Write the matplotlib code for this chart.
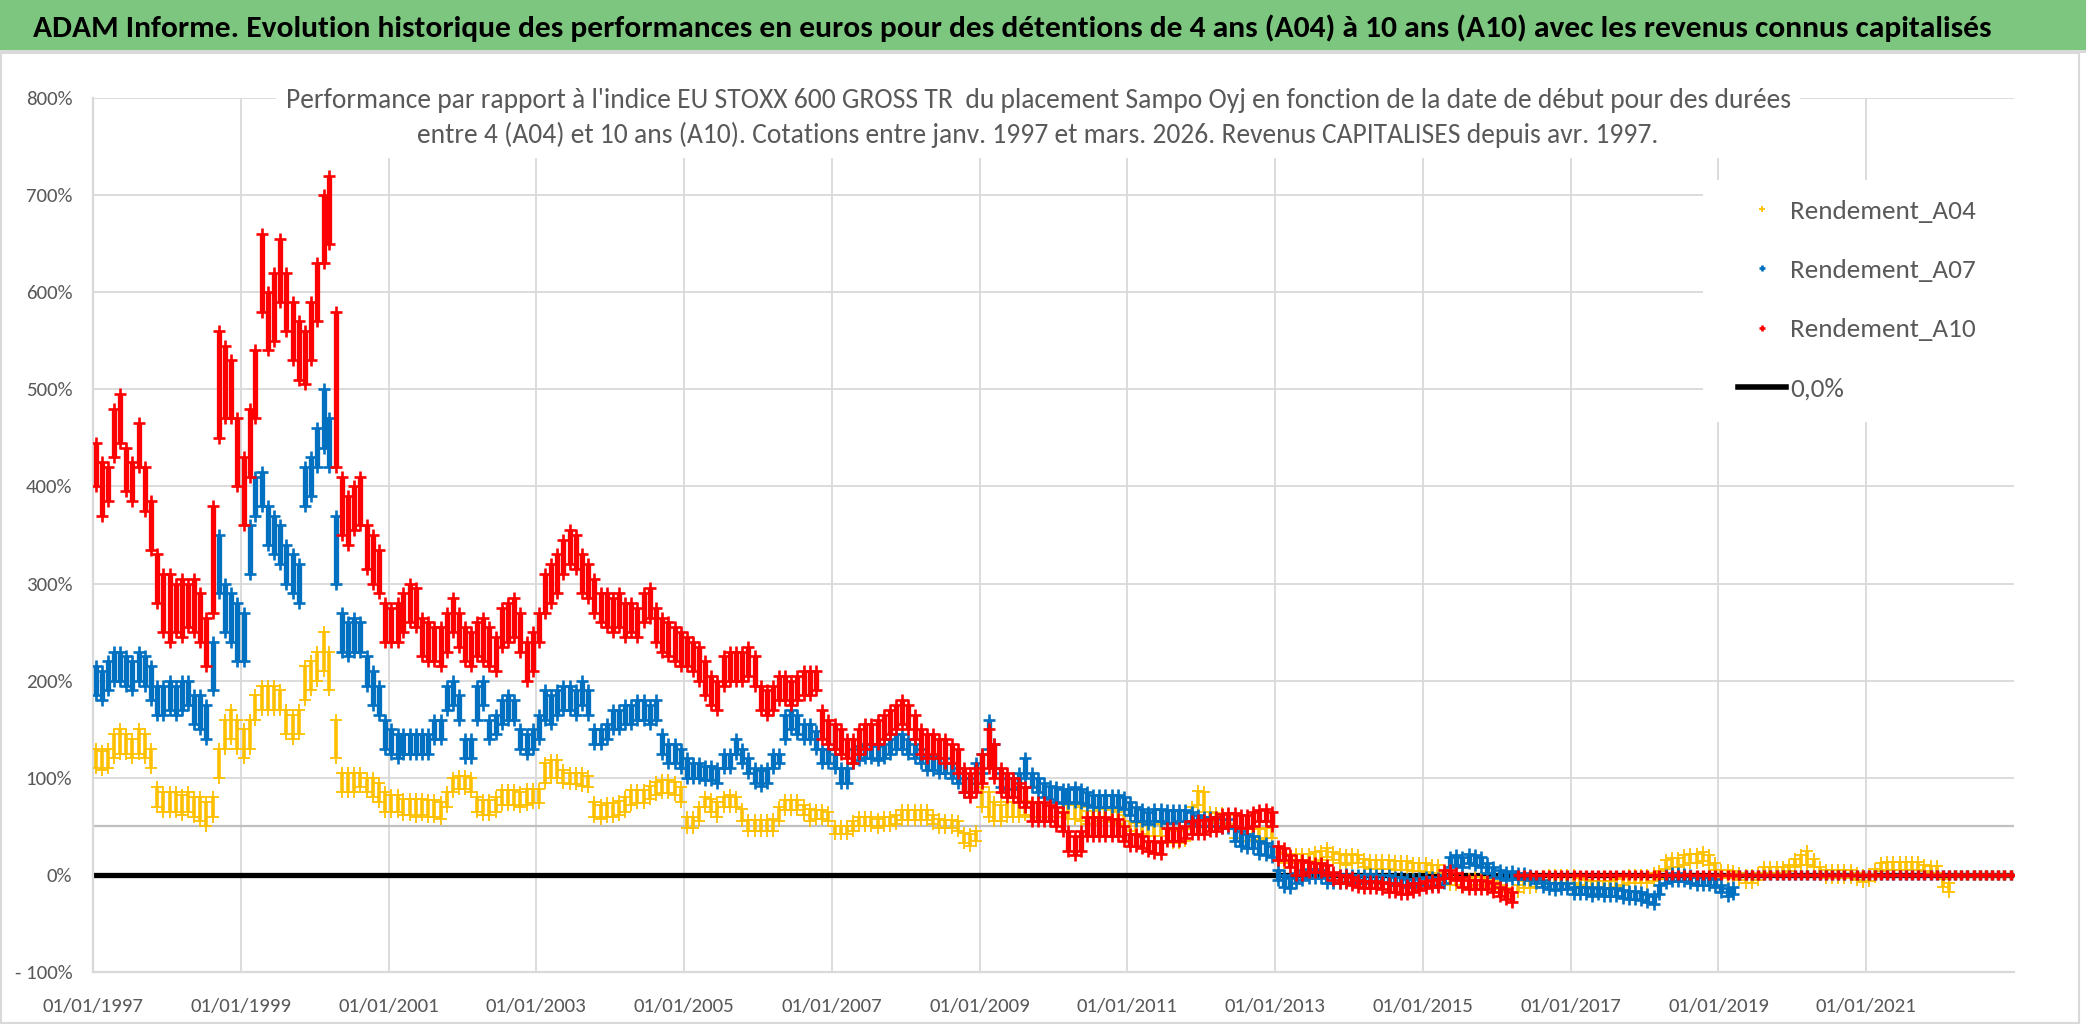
import pandas as pd
import matplotlib
matplotlib.use("Agg")
from matplotlib import pyplot as plt
from matplotlib import font_manager
from matplotlib.lines import Line2D
from matplotlib.patches import Rectangle

W, H = 2086, 1031
GRIS = "#595959"

dispo = {f.name for f in font_manager.fontManager.ttflist}
POLICE = "Carlito" if "Carlito" in dispo else "Lato"
plt.rcParams["font.family"] = [POLICE, "DejaVu Sans"]

TITRE = ("ADAM Informe. Evolution historique des performances en euros pour des détentions "
         "de 4 ans (A04) à 10 ans (A10) avec les revenus connus capitalisés")
SOUS_TITRE = ("Performance par rapport à l'indice EU STOXX 600 GROSS TR  du placement Sampo Oyj "
              "en fonction de la date de début pour des durées\n"
              "entre 4 (A04) et 10 ans (A10). Cotations entre janv. 1997 et mars. 2026. "
              "Revenus CAPITALISES depuis avr. 1997.")

# one value per month (mid-month), low / high edge of the daily cloud, in %
mois = pd.date_range("1997-01-01", "2022-12-01", freq="MS") + pd.Timedelta(days=14)

a04_bas = [
    110, 108, 110, 120, 125, 125, 120, 125, 120, 110, 70, 65,
    65, 65, 62, 65, 60, 55, 50, 60, 100, 130, 140, 130,
    120, 130, 160, 170, 170, 170, 170, 145, 140, 145, 180, 190,
    200, 210, 190, 120, 85, 85, 85, 90, 85, 80, 75, 65,
    65, 65, 62, 62, 60, 62, 60, 60, 58, 70, 85, 88,
    88, 85, 65, 62, 62, 65, 72, 72, 72, 70, 72, 74,
    74, 95, 100, 100, 95, 94, 94, 92, 90, 60, 58, 60,
    60, 62, 65, 72, 74, 74, 78, 82, 84, 84, 82, 75,
    48, 48, 55, 70, 65, 60, 70, 70, 70, 55, 45, 45,
    45, 45, 45, 55, 67, 67, 67, 62, 55, 58, 58, 55,
    42, 42, 42, 45, 50, 50, 50, 48, 50, 50, 52, 57,
    57, 57, 57, 57, 52, 48, 48, 48, 45, 33, 30, 35,
    70, 60, 55, 55, 60, 60, 60, 62, 60, 60, 60, 60,
    60, 60, 58, 58, 55, 52, 52, 55, 55, 54, 52, 50,
    45, 42, 42, 40, 40, 40, 35, 33, 33, 35, 55, 72,
    65, 55, 53, 53, 52, 38, 35, 35, 36, 36, 38, 38,
    14, 12, 12, 12, 12, 12, 14, 15, 18, 15, 12, 10,
    12, 12, 8, 6, 6, 6, 6, 5, 5, 5, 4, 4,
    3, 2, 2, -8, -10, -10, -12, -12, -10, -10, -12, -15,
    -18, -22, -28, -18, -14, -14, -12, -8, -8, -8, -8, -8,
    -8, -10, -12, -14, -14, -14, -14, -12, -10, -8, -8, -8,
    -8, -6, -4, 6, 8, 8, 10, 12, 12, 14, 10, 5,
    -3, -3, -3, -5, -8, -8, -5, 2, 2, 2, 2, 4,
    8, 10, 10, 8, 0, -3, -3, -3, -3, -3, -5, -7,
    -6, -2, 4, 5, 5, 5, 5, 5, 5, 4, 2, 2,
    -12, -18,
]
a04_haut = [
    130, 128, 130, 145, 150, 145, 140, 150, 145, 130, 90, 85,
    85, 85, 82, 85, 80, 80, 75, 80, 130, 160, 170, 160,
    150, 160, 185, 195, 195, 195, 190, 170, 165, 170, 215, 220,
    230, 250, 230, 160, 105, 105, 105, 105, 100, 100, 95, 85,
    82, 82, 78, 78, 78, 78, 77, 77, 75, 85, 100, 102,
    102, 100, 80, 77, 77, 80, 87, 87, 87, 85, 88, 88,
    88, 115, 118, 118, 108, 105, 105, 105, 102, 75, 72, 74,
    74, 76, 80, 87, 87, 87, 92, 96, 98, 98, 96, 90,
    60, 60, 70, 80, 78, 75, 80, 82, 80, 68, 57, 57,
    57, 57, 58, 70, 77, 77, 77, 72, 68, 67, 67, 65,
    50, 50, 50, 55, 60, 60, 60, 58, 60, 60, 62, 67,
    67, 67, 67, 67, 62, 58, 57, 57, 55, 43, 42, 45,
    90, 85, 75, 72, 75, 75, 75, 76, 74, 74, 74, 74,
    74, 74, 72, 72, 70, 66, 66, 68, 68, 67, 65, 62,
    55, 53, 53, 52, 52, 52, 47, 45, 45, 47, 70, 86,
    85, 65, 64, 64, 62, 48, 47, 47, 47, 47, 48, 50,
    24, 22, 22, 22, 22, 22, 24, 25, 28, 24, 22, 20,
    22, 20, 16, 15, 15, 15, 15, 14, 14, 14, 12, 12,
    12, 10, 10, 0, -2, -2, -4, -4, -2, -2, -4, -6,
    -10, -14, -18, -10, -6, -6, -4, -1, 0, 0, 0, 0,
    0, -3, -5, -6, -6, -6, -6, -4, -2, 0, 0, 0,
    0, 2, 4, 15, 17, 17, 20, 22, 22, 24, 20, 12,
    5, 5, 4, 2, 0, 0, 2, 8, 8, 8, 8, 10,
    16, 20, 25, 16, 8, 5, 5, 5, 5, 5, 2, 0,
    1, 6, 12, 13, 13, 13, 13, 13, 13, 10, 9, 9,
    -4, -8,
]

a07_bas = [
    185, 180, 190, 200, 200, 195, 190, 200, 195, 180, 165, 165,
    170, 165, 170, 175, 155, 150, 140, 190, 290, 250, 240, 220,
    220, 310, 370, 380, 340, 330, 320, 300, 290, 280, 380, 390,
    420, 440, 420, 300, 230, 225, 230, 230, 195, 175, 165, 130,
    125, 120, 125, 125, 125, 125, 125, 140, 140, 170, 175, 160,
    120, 120, 160, 175, 140, 145, 155, 160, 160, 130, 125, 130,
    140, 160, 155, 165, 170, 170, 165, 175, 165, 135, 135, 140,
    150, 150, 155, 155, 160, 160, 155, 160, 125, 115, 115, 110,
    100, 100, 100, 98, 98, 95, 110, 110, 125, 115, 105, 95,
    92, 95, 110, 115, 140, 150, 145, 140, 140, 130, 115, 115,
    110, 95, 95, 115, 118, 120, 120, 118, 120, 125, 130, 130,
    125, 120, 115, 108, 108, 105, 105, 100, 95, 85, 85, 95,
    105, 130, 110, 90, 88, 88, 90, 100, 90, 85, 80, 78,
    75, 74, 74, 75, 74, 72, 70, 70, 70, 70, 70, 68,
    62, 55, 55, 52, 55, 55, 53, 53, 55, 55, 53, 50,
    50, 50, 50, 48, 48, 35, 30, 28, 28, 22, 20, 18,
    -5, -12, -14, -8, -5, -3, -3, -3, -8, -8, -8, -7,
    -8, -8, -8, -7, -7, -8, -8, -10, -10, -12, -12, -10,
    -10, -10, -10, -8, 8, 10, 8, 12, 10, 8, 2, -2,
    -3, -5, -4, -4, -4, -5, -8, -12, -15, -16, -15, -15,
    -20, -20, -20, -22, -20, -22, -22, -22, -24, -25, -25, -26,
    -28, -30, -20, -8, -6, -6, -6, -8, -10, -10, -10, -12,
    -18, -22, -20,
]
a07_haut = [
    215, 210, 220, 230, 230, 225, 220, 230, 225, 215, 195, 195,
    200, 195, 200, 200, 185, 185, 175, 240, 350, 300, 290, 280,
    270, 360, 410, 415, 380, 370, 360, 340, 330, 320, 420, 430,
    460, 500, 470, 370, 270, 260, 265, 260, 225, 210, 195, 160,
    150, 145, 145, 145, 145, 145, 145, 160, 160, 195, 200, 185,
    140, 140, 195, 200, 160, 165, 180, 185, 180, 150, 145, 150,
    165, 190, 185, 190, 195, 195, 190, 200, 190, 150, 150, 155,
    170, 170, 175, 175, 180, 180, 175, 180, 145, 135, 135, 130,
    120, 115, 115, 112, 112, 110, 125, 125, 140, 130, 120, 110,
    108, 110, 125, 125, 165, 170, 165, 155, 155, 148, 130, 130,
    125, 110, 110, 130, 133, 135, 135, 133, 135, 140, 145, 145,
    140, 135, 130, 122, 122, 120, 120, 115, 110, 100, 100, 115,
    125, 160, 135, 105, 100, 100, 105, 120, 105, 100, 95, 92,
    90, 88, 88, 90, 88, 85, 82, 82, 82, 82, 82, 80,
    75, 70, 68, 65, 68, 68, 67, 67, 67, 67, 65, 62,
    60, 60, 60, 58, 58, 48, 45, 42, 40, 35, 33, 30,
    5, 0, -3, 2, 5, 6, 6, 5, 0, 0, 0, 1,
    0, 0, 0, 1, 0, 0, 0, -2, -2, -4, -4, -3,
    -2, -2, -3, 0, 18, 20, 18, 22, 20, 18, 12, 8,
    5, 3, 4, 2, 2, 0, -2, -5, -8, -8, -8, -8,
    -12, -12, -12, -14, -12, -14, -14, -14, -16, -17, -17, -18,
    -20, -22, -10, 0, 2, 2, 1, 0, -2, -2, -2, -4,
    -10, -14, -12,
]

a10_bas = [
    400, 370, 385, 430, 445, 395, 385, 420, 375, 335, 280, 250,
    240, 250, 245, 255, 250, 240, 215, 270, 450, 470, 470, 400,
    360, 410, 470, 580, 540, 550, 590, 560, 530, 510, 505, 530,
    570, 630, 650, 420, 350, 340, 355, 360, 315, 300, 290, 240,
    240, 240, 250, 260, 255, 225, 220, 220, 215, 230, 250, 235,
    220, 215, 225, 220, 215, 210, 235, 240, 245, 230, 200, 210,
    240, 270, 280, 290, 310, 320, 315, 290, 285, 270, 260, 255,
    250, 255, 245, 250, 245, 260, 265, 240, 230, 225, 220, 215,
    215, 210, 200, 185, 175, 170, 195, 200, 200, 200, 205, 195,
    170, 165, 170, 180, 180, 175, 180, 185, 185, 190, 140, 135,
    130, 125, 120, 115, 125, 130, 135, 135, 140, 145, 150, 155,
    150, 140, 125, 120, 125, 120, 115, 115, 105, 85, 80, 85,
    95, 110, 100, 85, 80, 80, 75, 70, 55, 55, 55, 55,
    50, 45, 25, 20, 25, 40, 40, 40, 40, 40, 40, 35,
    30, 30, 28, 25, 23, 22, 35, 35, 35, 38, 42, 42,
    42, 45, 45, 48, 50, 50, 48, 48, 50, 55, 55, 50,
    15, 15, 8, 0, 0, 3, 3, 3, 0, -5, -8, -8,
    -10, -12, -14, -14, -14, -15, -18, -18, -20, -20, -18, -16,
    -14, -12, -12, -3, -3, -5, -12, -15, -15, -15, -15, -18,
    -22, -25, -28,
]
a10_haut = [
    445, 425, 420, 480, 495, 440, 425, 465, 420, 385, 330, 310,
    310, 300, 305, 300, 305, 290, 265, 380, 560, 545, 530, 470,
    430, 480, 540, 660, 600, 620, 655, 620, 590, 570, 560, 590,
    630, 700, 720, 580, 410, 390, 400, 410, 360, 350, 335, 280,
    275, 280, 290, 300, 295, 265, 260, 255, 255, 270, 285, 270,
    255, 250, 260, 265, 255, 245, 275, 280, 285, 270, 240, 250,
    270, 310, 320, 330, 345, 355, 350, 330, 320, 305, 290, 290,
    285, 290, 280, 280, 275, 290, 295, 275, 265, 260, 255, 250,
    245, 240, 235, 220, 205, 200, 225, 230, 230, 230, 235, 225,
    195, 190, 195, 205, 205, 200, 205, 210, 210, 210, 170, 160,
    155, 150, 140, 140, 150, 155, 155, 160, 165, 170, 175, 180,
    175, 165, 150, 145, 145, 140, 140, 135, 130, 110, 105, 110,
    125, 150, 135, 110, 105, 100, 95, 90, 75, 75, 75, 72,
    70, 65, 45, 40, 45, 60, 60, 60, 60, 58, 58, 50,
    42, 42, 40, 35, 35, 34, 48, 48, 48, 50, 55, 57,
    57, 58, 60, 63, 64, 64, 62, 62, 65, 67, 68, 65,
    30, 28, 20, 15, 15, 13, 12, 12, 10, 3, 0, 0,
    -2, -5, -6, -6, -6, -7, -8, -8, -10, -10, -8, -8,
    -6, -5, -4, 5, 5, 2, -2, -5, -5, -5, -6, -8,
    -12, -15, -18,
]

# name, colour, low, high, stroke width of the "+" marks
series = [
    ("Rendement_A04", "#FFC000", a04_bas, a04_haut, 1.3),
    ("Rendement_A07", "#0070C0", a07_bas, a07_haut, 1.9),
    ("Rendement_A10", "#FF0000", a10_bas, a10_haut, 1.9),
]

annees_ticks = list(range(1997, 2022, 2))
yticks = list(range(-100, 801, 100))

fig = plt.figure(figsize=(W / 100, H / 100), dpi=100)
fig.patch.set_facecolor("white")

# green title band + chart frame
fig.patches.append(Rectangle((0, 1 - 50 / H), 1, 50 / H, transform=fig.transFigure,
                             facecolor="#7DC67F", edgecolor="none", zorder=0))
fig.patches.append(Rectangle((0, 1 - 53 / H), 1, 3 / H, transform=fig.transFigure,
                             facecolor="#D9D9D9", edgecolor="none", zorder=0))
fig.patches.append(Rectangle((1 / W, 1 - 1023 / H), 2078 / W, 970 / H, transform=fig.transFigure,
                             facecolor="none", edgecolor="#D9D9D9", lw=1.5, zorder=0))

ax = fig.add_axes([93 / W, 1 - 972 / H, (2014 - 93) / W, (972 - 98) / H])
ax.set_facecolor("none")

ax.axhline(50, color="#BFBFBF", lw=1.6, zorder=1)
ax.plot([pd.Timestamp("1997-01-01"), pd.Timestamp("2023-01-01")], [0, 0],
        color="black", lw=3.8, solid_capstyle="butt", zorder=2)

for k, (nom, couleur, bas, haut, trait) in enumerate(series):
    n = len(bas)
    x = mois[:n]
    z = 3 + k
    ax.vlines(x, bas, haut, colors=couleur, lw=2 * trait, zorder=z)
    ax.plot(x, bas, ls="none", marker="+", ms=8, mew=trait, color=couleur, zorder=z)
    ax.plot(x, haut, ls="none", marker="+", ms=8, mew=trait, color=couleur, zorder=z)
    # no data left for that holding period: Excel plots it at 0
    reste = mois[n:]
    ax.plot(reste, [0] * len(reste), ls="none", marker="+", ms=6.5, mew=2.4,
            color=couleur, zorder=z)

ax.set_xlim(pd.Timestamp("1997-01-01"), pd.Timestamp("2023-01-01"))
ax.set_ylim(-100, 800)
ax.set_xticks([pd.Timestamp(f"{a}-01-01") for a in annees_ticks])
ax.set_xticklabels([f"01/01/{a}" for a in annees_ticks])
ax.set_yticks(yticks)
ax.set_yticklabels(["- 100%" if v < 0 else f"{v}%" for v in yticks])
ax.tick_params(axis="both", length=0, labelsize=15, labelcolor=GRIS)
ax.tick_params(axis="x", pad=19)
ax.tick_params(axis="y", pad=15)
ax.grid(True, color="#D9D9D9", lw=1.3)
ax.set_axisbelow(True)
for cote in ("top", "right"):
    ax.spines[cote].set_visible(False)
for cote in ("left", "bottom"):
    ax.spines[cote].set_color("#D9D9D9")
    ax.spines[cote].set_linewidth(1.6)

# legend: white block hiding the grid, entries laid on top
ax.add_patch(Rectangle((1703 / W, 1 - 422 / H), (2015 - 1703) / W, (422 - 180) / H,
                       transform=fig.transFigure, facecolor="white", edgecolor="none",
                       zorder=9, clip_on=False))
poignees = [Line2D([], [], ls="none", marker="+", ms=5, mew=t, color=c)
            for _, c, _, _, t in series]
poignees.append(Line2D([], [], color="black", lw=4))
noms = [s[0] for s in series] + ["0,0%"]
leg = ax.legend(poignees, noms, loc="upper left",
                bbox_to_anchor=((1724 - 93) / 1921, (972 - 186) / 874),
                frameon=False, fontsize=19.5, labelcolor=GRIS, handlelength=1.8,
                handletextpad=0.15, labelspacing=1.34, borderpad=0.5, borderaxespad=0)
leg.set_zorder(10)

titre = fig.text(33 / W, 1 - 28 / H, TITRE, ha="left", va="center", fontsize=22,
                 fontweight="bold", color="black")
sous = fig.text(1038 / W, 1 - 118 / H, SOUS_TITRE, ha="center", va="center", ma="center",
                fontsize=20, color=GRIS, linespacing=1.45,
                bbox=dict(boxstyle="square,pad=0.35", facecolor="white", edgecolor="none"))

# scale the two headers to the widths they take in the source
fig.canvas.draw()
for txt, largeur in ((titre, 1951), (sous, 1505)):
    w = txt.get_window_extent().width
    txt.set_fontsize(txt.get_fontsize() * largeur / w)

fig.savefig("out.png", dpi=100, facecolor="white")
